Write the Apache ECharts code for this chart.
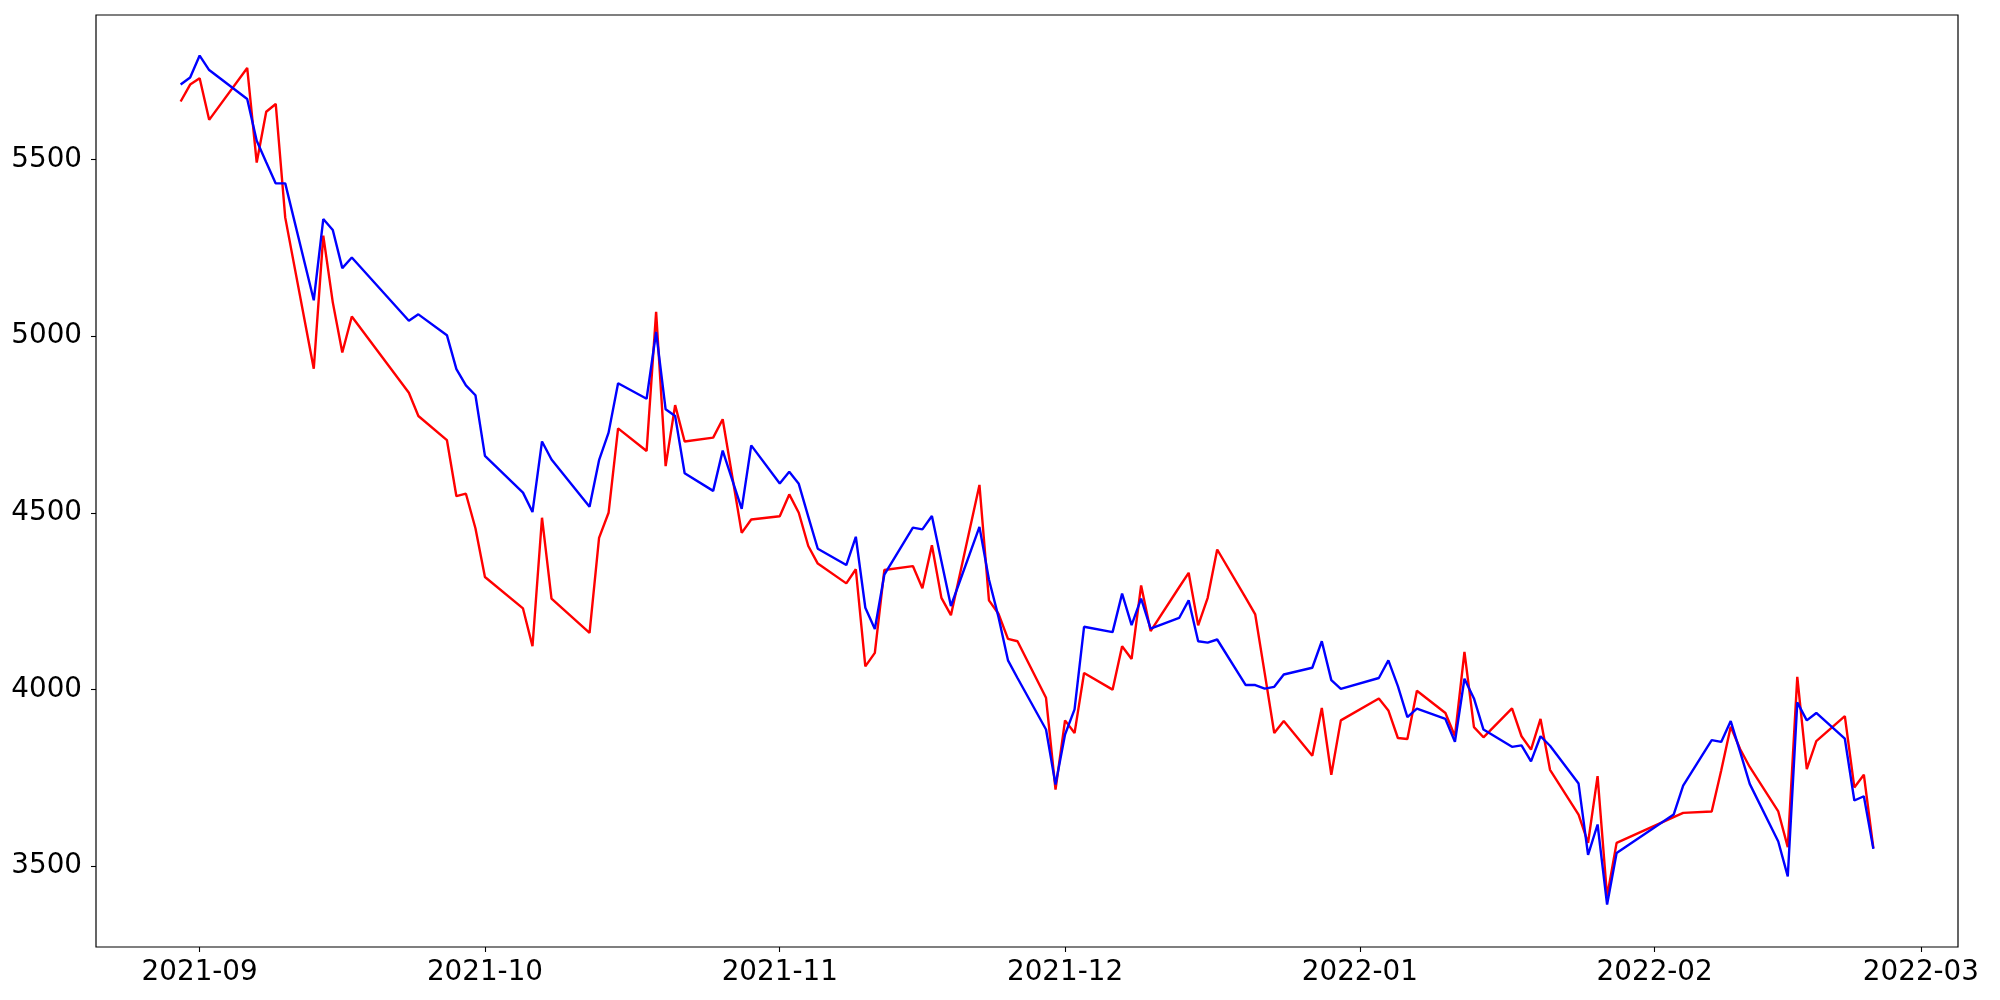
<!DOCTYPE html>
<html>
<head>
<meta charset="utf-8">
<script src="https://cdn.jsdelivr.net/npm/echarts@6/dist/echarts.min.js"></script>
<style>
  html, body { margin: 0; padding: 0; background: #ffffff; }
  #chart { width: 2000px; height: 1000px; }
</style>
</head>
<body>
<div id="chart"></div>
<script>
const dates = [
  '2021-08-30','2021-08-31','2021-09-01','2021-09-02','2021-09-06','2021-09-07','2021-09-08','2021-09-09','2021-09-10',
  '2021-09-13','2021-09-14','2021-09-15','2021-09-16','2021-09-17','2021-09-23','2021-09-24',
  '2021-09-27','2021-09-28','2021-09-29','2021-09-30','2021-10-01','2021-10-05','2021-10-06','2021-10-07','2021-10-08',
  '2021-10-12','2021-10-13','2021-10-14','2021-10-15','2021-10-18','2021-10-19','2021-10-20','2021-10-21','2021-10-22',
  '2021-10-25','2021-10-26','2021-10-28','2021-10-29','2021-11-01','2021-11-02','2021-11-03','2021-11-04','2021-11-05',
  '2021-11-08','2021-11-09','2021-11-10','2021-11-11','2021-11-12','2021-11-15','2021-11-16','2021-11-17','2021-11-18','2021-11-19',
  '2021-11-22','2021-11-23','2021-11-24','2021-11-25','2021-11-26','2021-11-29','2021-11-30','2021-12-01','2021-12-02','2021-12-03',
  '2021-12-06','2021-12-07','2021-12-08','2021-12-09','2021-12-10','2021-12-13','2021-12-14','2021-12-15','2021-12-16','2021-12-17',
  '2021-12-20','2021-12-21','2021-12-22','2021-12-23','2021-12-24','2021-12-27','2021-12-28','2021-12-29','2021-12-30',
  '2022-01-03','2022-01-04','2022-01-05','2022-01-06','2022-01-07','2022-01-10','2022-01-11','2022-01-12','2022-01-13','2022-01-14',
  '2022-01-17','2022-01-18','2022-01-19','2022-01-20','2022-01-21','2022-01-24','2022-01-25','2022-01-26','2022-01-27','2022-01-28',
  '2022-02-03','2022-02-04','2022-02-07','2022-02-08','2022-02-09','2022-02-10','2022-02-11',
  '2022-02-14','2022-02-15','2022-02-16','2022-02-17','2022-02-18','2022-02-21','2022-02-22','2022-02-23','2022-02-24'
];

const redValues = [
  5665,5713,5731,5613,5760,5492,5636,5658,5336,
  4908,5285,5096,4954,5056,4840,4774,
  4706,4547,4554,4456,4318,4229,4122,4486,4257,
  4160,4429,4500,4739,4675,5069,4632,4805,4702,
  4713,4765,4443,4481,4490,4552,4500,4406,4356,
  4300,4340,4065,4103,4338,4349,4286,4408,4259,4210,
  4579,4252,4214,4143,4136,3976,3716,3912,3876,4046,
  3999,4122,4086,4294,4165,4289,4330,4181,4259,4396,
  4259,4212,4045,3876,3910,3812,3947,3758,3912,
  3974,3940,3862,3859,3996,3933,3867,4106,3893,3864,
  3946,3867,3829,3916,3772,3645,3565,3754,3413,3565,
  3638,3650,3654,3770,3894,3830,3780,
  3654,3553,4035,3774,3853,3924,3722,3758,3550
];

const blueValues = [
  5713,5733,5795,5754,5672,5554,5493,5433,5433,
  5102,5332,5301,5193,5223,5044,5062,
  5003,4907,4861,4833,4661,4557,4502,4702,4651,
  4517,4649,4727,4867,4823,5012,4793,4774,4612,
  4562,4676,4511,4691,4583,4616,4582,4489,4398,
  4352,4432,4231,4171,4325,4458,4453,4491,4363,4236,
  4460,4311,4205,4082,4032,3886,3730,3872,3943,4177,
  4162,4271,4182,4257,4172,4202,4252,4136,4132,4141,
  4012,4012,4002,4007,4042,4061,4136,4026,4001,
  4032,4082,4009,3921,3945,3916,3851,4030,3974,3886,
  3837,3841,3796,3867,3840,3733,3531,3617,3390,3536,
  3645,3727,3856,3851,3910,3822,3732,
  3569,3470,3963,3912,3933,3860,3685,3697,3548
];

const xTickLabels = ['2021-09','2021-10','2021-11','2021-12','2022-01','2022-02','2022-03'];
const yTickValues = [3500, 4000, 4500, 5000, 5500];
const yMin = 3270;
const yMax = 5910;

const DAY = 86400000;
function toDay(s) {
  const p = s.split('-').map(Number);
  return Date.UTC(p[0], p[1] - 1, p.length > 2 ? p[2] : 1) / DAY;
}

const days = dates.map(toDay);
const span = days[days.length - 1] - days[0];
const xMin = days[0] - span * 0.05;
const xMax = days[days.length - 1] + span * 0.05;
const xTickDays = xTickLabels.map(toDay);
const labelByDay = {};
xTickLabels.forEach((l, i) => { labelByDay[xTickDays[i]] = l; });

const redData = days.map((t, i) => [t, redValues[i]]);
const blueData = days.map((t, i) => [t, blueValues[i]]);

const FONT = 'DejaVu Sans';
const chart = echarts.init(document.getElementById('chart'), null, { renderer: 'canvas' });
chart.setOption({
  animation: false,
  backgroundColor: '#ffffff',
  grid: {
    left: 96, right: 42, top: 15, bottom: 53,
    containLabel: false,
    outerBoundsMode: 'none',
    show: true,
    borderColor: '#000000',
    borderWidth: 1.2,
    backgroundColor: 'transparent'
  },
  xAxis: {
    type: 'value',
    min: xMin,
    max: xMax,
    axisLine: { show: false },
    splitLine: { show: false },
    axisTick: {
      show: true,
      customValues: xTickDays,
      length: 5,
      inside: false,
      lineStyle: { color: '#000000', width: 1.1 }
    },
    axisLabel: {
      show: true,
      customValues: xTickDays,
      margin: 12,
      color: '#000000',
      fontFamily: FONT,
      fontSize: 27.8,
      formatter: function (v) { return labelByDay[v] !== undefined ? labelByDay[v] : ''; }
    }
  },
  yAxis: {
    type: 'value',
    min: yMin,
    max: yMax,
    axisLine: { show: false },
    splitLine: { show: false },
    axisTick: {
      show: true,
      customValues: yTickValues,
      length: 5,
      inside: false,
      lineStyle: { color: '#000000', width: 1.1 }
    },
    axisLabel: {
      show: true,
      customValues: yTickValues,
      margin: 14,
      color: '#000000',
      fontFamily: FONT,
      fontSize: 27.8,
      formatter: function (v) { return String(v); }
    }
  },
  series: [
    {
      name: 'red',
      type: 'line',
      data: redData,
      showSymbol: false,
      symbol: 'none',
      lineStyle: { color: '#ff0000', width: 2.4 },
      itemStyle: { color: '#ff0000' },
      z: 2
    },
    {
      name: 'blue',
      type: 'line',
      data: blueData,
      showSymbol: false,
      symbol: 'none',
      lineStyle: { color: '#0000ff', width: 2.4 },
      itemStyle: { color: '#0000ff' },
      z: 3
    }
  ]
});
</script>
</body>
</html>
